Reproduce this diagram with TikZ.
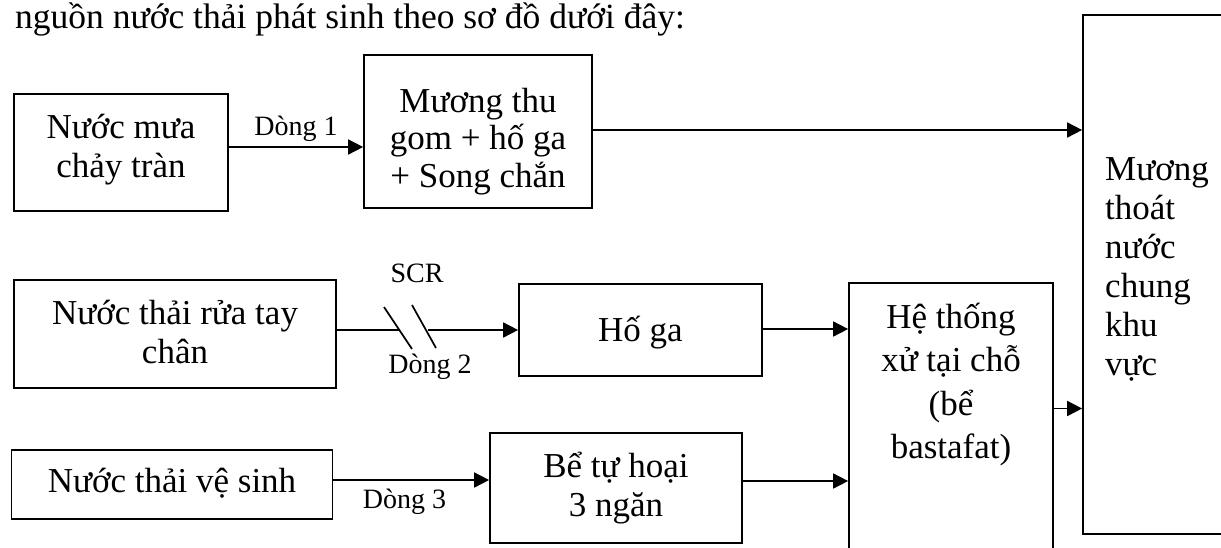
\documentclass[tikz,border=0pt]{standalone}
\usepackage{fontspec}
\setmainfont{Liberation Serif}
\usetikzlibrary{arrows.meta}
\newcommand\bfnt{\fontsize{35}{39}\selectfont}
\newcommand\lfnt{\fontsize{28}{32}\selectfont}
\newcommand\rs[1]{\rule{0pt}{#1pt}}
\newcommand\ds[1]{\rule[-#1pt]{0pt}{#1pt}}
\begin{document}
\begin{tikzpicture}[x=1pt,y=-1pt,
  box/.style={draw, line width=1.7pt, inner sep=0pt, align=center, font=\bfnt},
  txt/.style={inner sep=0pt, font=\bfnt},
  lbl/.style={inner sep=0pt, font=\lfnt, anchor=base},
  arr/.style={line width=1.7pt, -{Triangle[length=15pt,width=15pt]}},
  brk/.style={line width=1.7pt}
]
\fill[white] (0,0) rectangle (1221,547);
\useasboundingbox (0,0) rectangle (1221,547);

\node[txt, anchor=base west, font=\fontsize{35.5}{40}\selectfont] (title) at (15,28) {nguồn nước thải phát sinh theo sơ đồ dưới đây:};

\node[box, minimum width=214pt, minimum height=117pt] (A) at (121,152.5)
  {\rs{34}Nước mưa\\chảy tràn\ds{24}};
\node[box, minimum width=228pt, minimum height=153pt, font=\fontsize{35}{37.5}\selectfont] (B) at (478,131.5)
  {\rs{44}Mương thu\\gom + hố ga\\+ Song chắn\ds{8}};
\node[box, minimum width=142pt, minimum height=519pt] (C) at (1154,274.5) {};
\node[txt, anchor=north west, align=left, font=\fontsize{35}{39}\selectfont] (Ct) at (1105,146)
  {\rs{34}Mương\\thoát\\nước\\chung\\khu\\vực};

\node[box, minimum width=322pt, minimum height=108pt] (D) at (175,334)
  {\rs{34}Nước thải rửa tay\\chân\ds{15}};
\node[box, minimum width=243pt, minimum height=92pt] (E) at (640.5,330)
  {\rs{34}Hố ga\ds{12}};
\node[box, minimum width=204pt, minimum height=277pt] (F) at (951,421.5) {};
\node[txt, anchor=north, align=center, font=\fontsize{35}{43.5}\selectfont] (Ft) at (951,294)
  {\rs{34}Hệ thống\\xử tại chỗ\\(bể\\bastafat)};

\node[box, minimum width=321pt, minimum height=69pt] (G) at (172,484.5)
  {\rs{34}Nước thải vệ sinh\ds{19}};
\node[box, minimum width=252pt, minimum height=110pt] (H) at (616,488)
  {\rs{34}Bể tự hoại\\3 ngăn\ds{16}};

% labels
\node[lbl] (l1) at (296,135) {Dòng 1};
\node[lbl] (scr) at (417,282) {SCR};
\node[lbl] (l2) at (430,373) {Dòng 2};
\node[lbl] (l3) at (404.5,508) {Dòng 3};

% connectors
\draw[arr] ([yshift=5.5pt]A.east) coordinate (a1) -- (a1 -| B.west);
\draw[arr] ([yshift=1.5pt]B.east) coordinate (b1) -- (b1 -| C.west);
\coordinate (s1a) at (384,307);
\coordinate (s1b) at (412,349);
\coordinate (s2a) at (412,305);
\coordinate (s2b) at (436,348);
\coordinate (d1) at (400,330);
\coordinate (d2) at (428,330);
\draw[brk] (E.west -| D.east) -- (d1);
\draw[brk] (s1a) -- (s1b);
\draw[brk] (s2a) -- (s2b);
\draw[arr] (d2) -- (E.west);
\draw[arr] ([yshift=1pt]E.east) coordinate (e1) -- (e1 -| F.west);
\draw[arr] ([yshift=4.5pt]G.east) coordinate (g1) -- (g1 -| H.west);
\draw[arr] ([yshift=7pt]H.east) coordinate (h1) -- (h1 -| F.west);
\draw[arr] ([yshift=13pt]F.east) coordinate (f1) -- (f1 -| C.west);
\end{tikzpicture}
\end{document}
